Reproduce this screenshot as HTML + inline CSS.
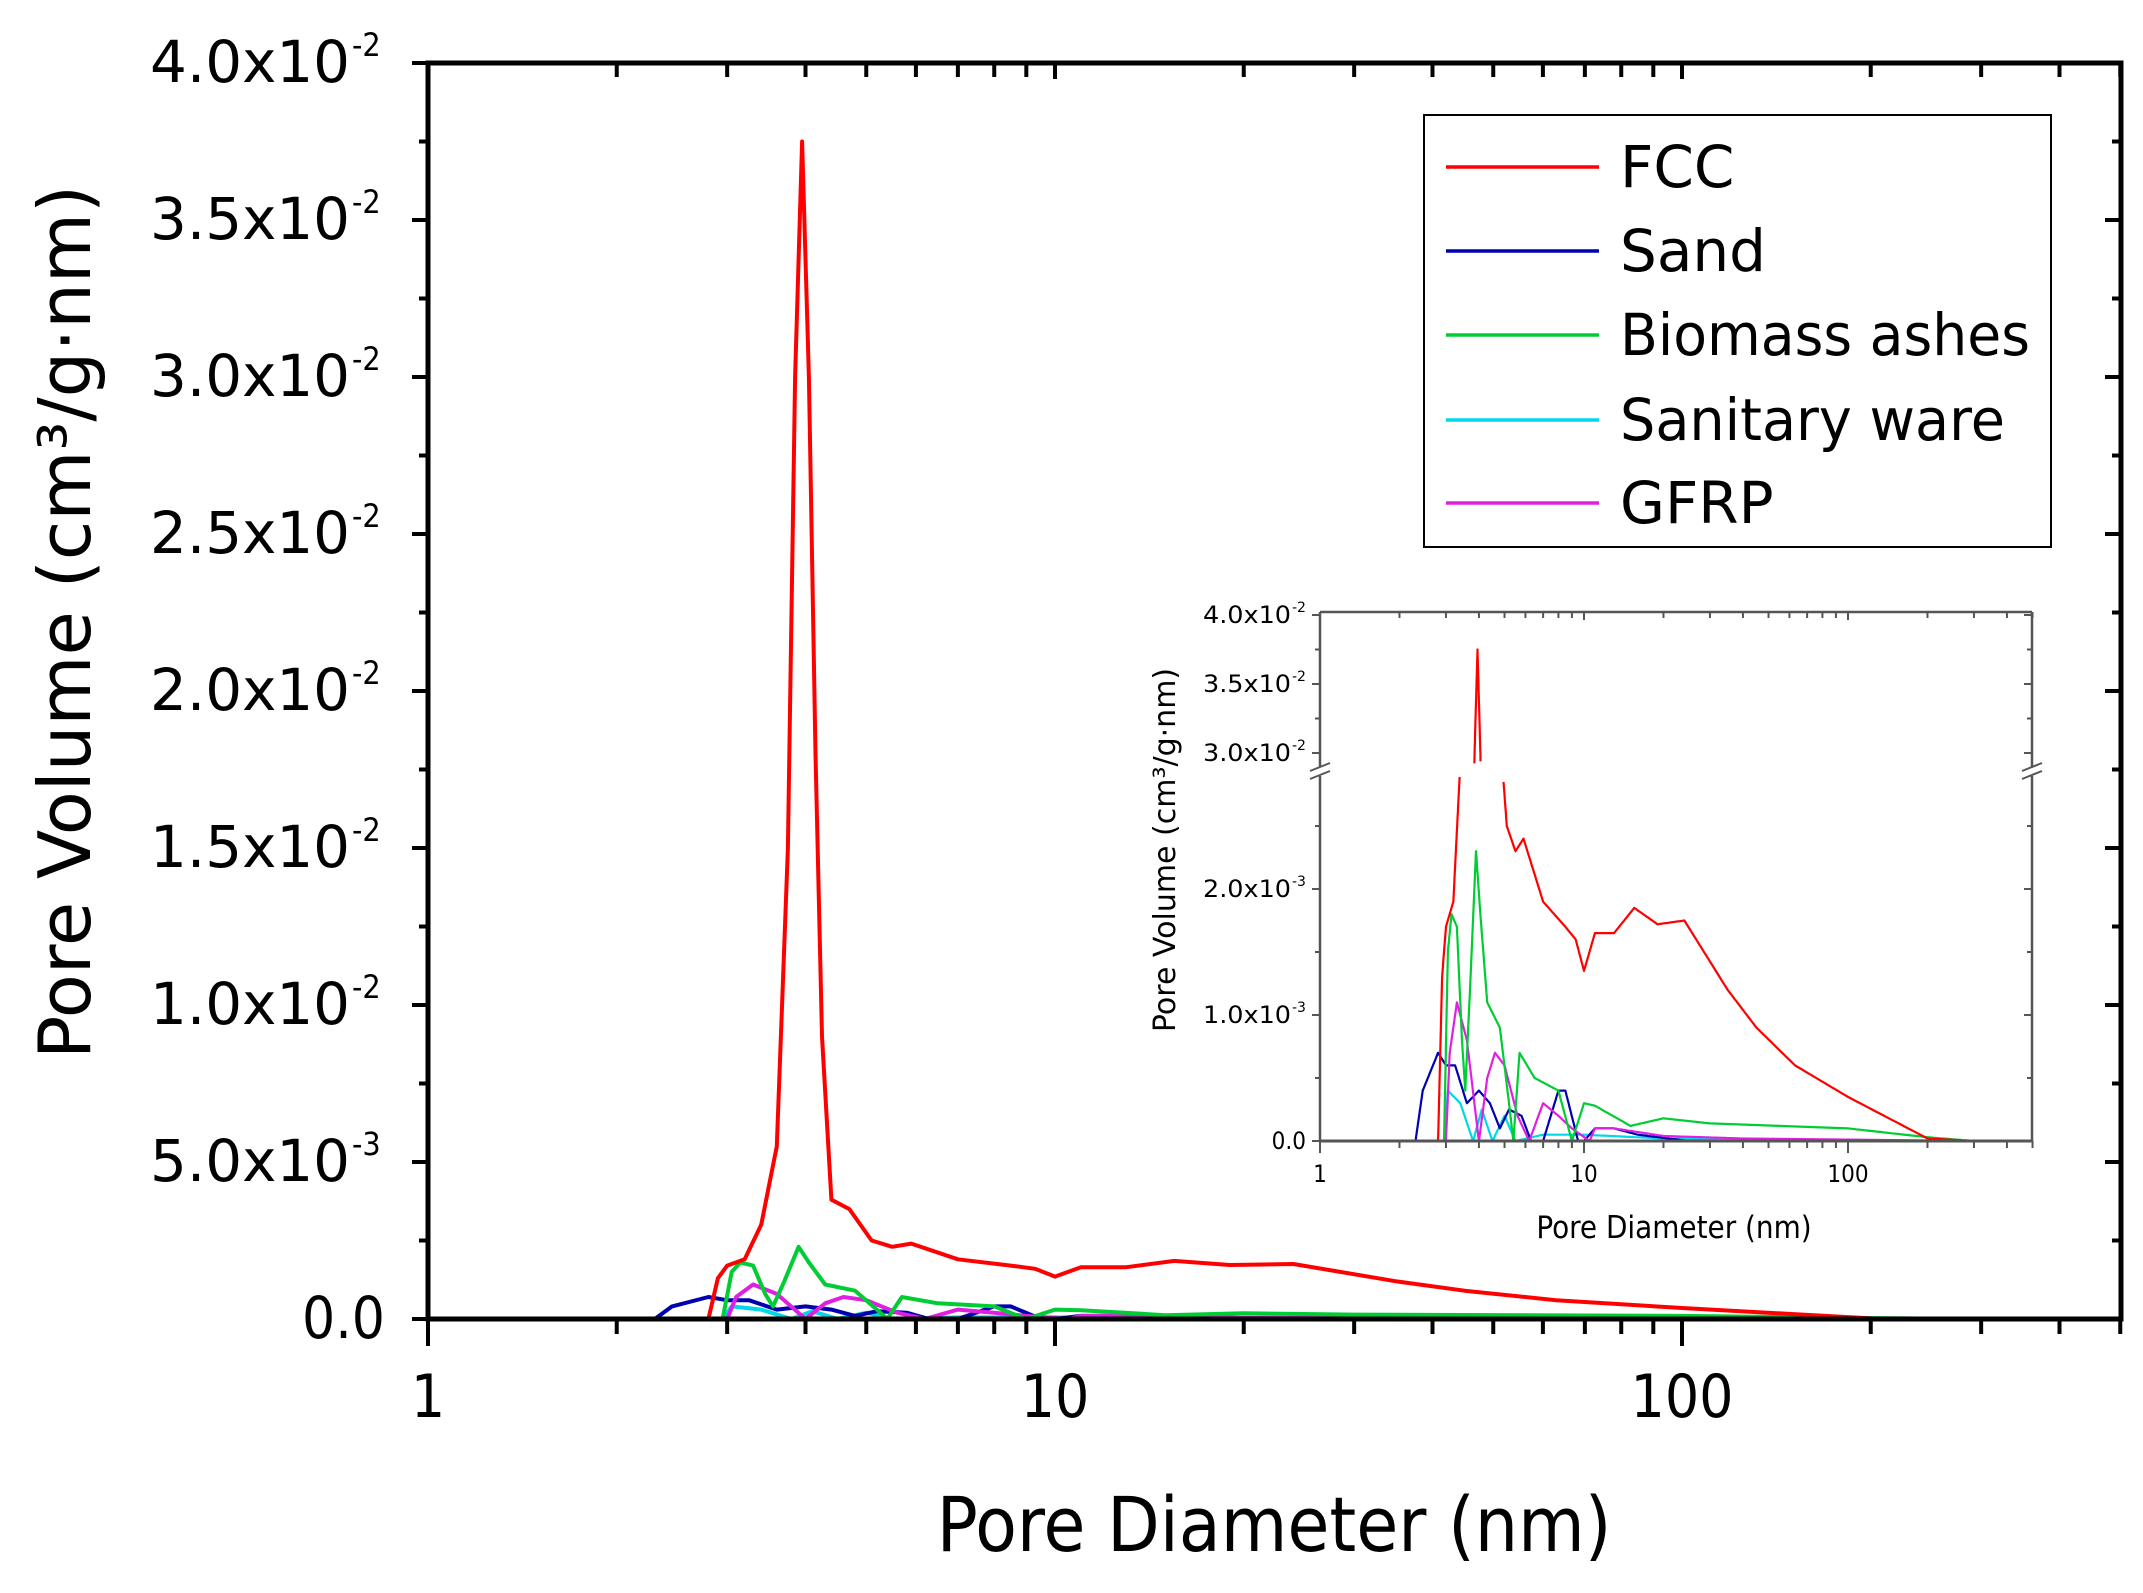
<!DOCTYPE html>
<html><head><meta charset="utf-8">
<style>
html,body{margin:0;padding:0;background:#fff;}
svg{display:block;}
text{font-family:"DejaVu Sans","Liberation Sans",sans-serif;fill:#000;}
</style></head>
<body>
<svg id="s" width="2143" height="1593" viewBox="0 0 2143 1593" xmlns="http://www.w3.org/2000/svg">
<rect width="2143" height="1593" fill="#fff"/>
<g id="g"></g>
<rect x="1424" y="115" width="627" height="432" fill="#fff" stroke="#000" stroke-width="2"/>
<g stroke-width="3.5">
<line x1="1446" y1="167" x2="1599" y2="167" stroke="#ff0000"/>
<line x1="1446" y1="251" x2="1599" y2="251" stroke="#0000b0"/>
<line x1="1446" y1="335" x2="1599" y2="335" stroke="#00cc33"/>
<line x1="1446" y1="420" x2="1599" y2="420" stroke="#00d8e8"/>
<line x1="1446" y1="503" x2="1599" y2="503" stroke="#e020e0"/>
</g>
<g font-size="58" style="font-family:'DejaVu Sans Condensed','DejaVu Sans',sans-serif">
<text x="1620" y="187">FCC</text>
<text x="1620" y="271">Sand</text>
<text x="1620" y="355" textLength="410" lengthAdjust="spacingAndGlyphs">Biomass ashes</text>
<text x="1620" y="440" textLength="385" lengthAdjust="spacingAndGlyphs">Sanitary ware</text>
<text x="1620" y="523">GFRP</text>
</g>
<text x="1274" y="1551" font-size="76" text-anchor="middle" style="font-family:'DejaVu Sans Condensed','DejaVu Sans',sans-serif">Pore Diameter (nm)</text>
<text transform="translate(90,622) rotate(-90)" font-size="72" text-anchor="middle">Pore Volume (cm³/g·nm)</text>
<text x="1674" y="1238" font-size="31" text-anchor="middle" style="font-family:'DejaVu Sans Condensed','DejaVu Sans',sans-serif">Pore Diameter (nm)</text>
<text transform="translate(1175,850) rotate(-90)" font-size="30" text-anchor="middle">Pore Volume (cm³/g·nm)</text>
</svg>
<script>
var NS="http://www.w3.org/2000/svg",G=document.getElementById("g");
function el(t,a,txt){var e=document.createElementNS(NS,t);for(var k in a)e.setAttribute(k,a[k]);if(txt!=null)e.textContent=txt;G.appendChild(e);return e;}
var D={
FCC:[[2.8,0],[2.9,0.0013],[3.0,0.0017],[3.2,0.0019],[3.4,0.003],[3.6,0.0055],[3.75,0.015],[3.85,0.03],[3.95,0.0375],[4.05,0.03],[4.15,0.018],[4.25,0.009],[4.4,0.0038],[4.7,0.0035],[5.1,0.0025],[5.5,0.0023],[5.9,0.0024],[7,0.0019],[8.5,0.0017],[9.3,0.0016],[10,0.00135],[11,0.00165],[13,0.00165],[15.5,0.00185],[19,0.00172],[24,0.00175],[35,0.0012],[45,0.0009],[63,0.0006],[100,0.00035],[200,0.00002],[300,0]],
BIO:[[2.95,0],[3.05,0.0015],[3.15,0.0018],[3.3,0.0017],[3.45,0.0008],[3.55,0.0004],[3.7,0.0012],[3.9,0.0023],[4.05,0.0018],[4.3,0.0011],[4.8,0.0009],[5.2,0.0003],[5.4,0],[5.7,0.0007],[6.5,0.0005],[8,0.0004],[9,0],[10,0.0003],[11,0.00028],[15,0.00012],[20,0.00018],[30,0.00014],[100,0.0001],[200,0.00003],[300,0]],
SAND:[[2.3,0],[2.45,0.0004],[2.8,0.0007],[3.0,0.0006],[3.25,0.0006],[3.6,0.0003],[4.0,0.0004],[4.4,0.0003],[4.8,0.0001],[5.2,0.00025],[5.8,0.0002],[6.3,0],[7,0],[8,0.0004],[8.5,0.0004],[9.5,0],[10,0],[11,0.0001],[13,0.0001],[16,0.00005],[25,0],[300,0]],
SAN:[[2.95,0],[3.05,0.0004],[3.4,0.0003],[3.8,0],[4.1,0.00025],[4.5,0],[5,0.0002],[5.5,0],[7,0.00005],[10,0.00005],[20,0.00002],[300,0]],
GF:[[3.0,0],[3.1,0.0007],[3.3,0.0011],[3.6,0.0008],[4.0,0],[4.3,0.0005],[4.6,0.0007],[5,0.0006],[5.6,0.0002],[6.2,0],[7,0.0003],[8,0.0002],[9,0.0001],[10.5,0],[11,0.0001],[13,0.0001],[20,0.00004],[40,0.00002],[300,0]]};
var C={FCC:"#ff0000",BIO:"#00cc33",SAND:"#0000b0",SAN:"#00d8e8",GF:"#e020e0"};
var order=["SAN","SAND","GF","BIO","FCC"];
var L=428,R=2121,T=63,B=1319,DEC=627;
function mx(d){return L+Math.log10(d)*DEC;}
function my(v){return B-v/0.04*(B-T);}
order.forEach(function(k){var p=D[k].map(function(q){return mx(q[0]).toFixed(1)+","+my(q[1]).toFixed(1)}).join(" ");
el("polyline",{points:p,fill:"none",stroke:C[k],"stroke-width":4,"stroke-linejoin":"round"});});
el("rect",{x:L,y:T,width:R-L,height:B-T,fill:"none",stroke:"#000","stroke-width":5});
for(var i=0;i<=16;i++){var v=i*0.0025,y=my(v),maj=i%2==0,len=maj?16:9;
el("line",{x1:L-len,y1:y,x2:L,y2:y,stroke:"#000","stroke-width":4});
el("line",{x1:R,y1:y,x2:R-len,y2:y,stroke:"#000","stroke-width":4});}
var yl=[["0.0",""],["5.0x10","-3"],["1.0x10","-2"],["1.5x10","-2"],["2.0x10","-2"],["2.5x10","-2"],["3.0x10","-2"],["3.5x10","-2"],["4.0x10","-2"]];
yl.forEach(function(l,i){var y=my(i*0.005)+19;
if(l[1]){el("text",{x:150,y:y,"font-size":58,textLength:200,lengthAdjust:"spacingAndGlyphs",style:"font-family:'DejaVu Sans Condensed','DejaVu Sans',sans-serif"},l[0]);
el("text",{x:352,y:y-26,"font-size":32,style:"font-family:'DejaVu Sans Condensed','DejaVu Sans',sans-serif"},l[1]);}
else el("text",{x:385,y:y,"font-size":58,"text-anchor":"end",style:"font-family:'DejaVu Sans Condensed','DejaVu Sans',sans-serif"},l[0]);});
for(var e=0;e<3;e++)for(var m=1;m<=9;m++){var d=m*Math.pow(10,e);if(d>500)break;var x=mx(d),maj=m==1,len=maj?27:15;
el("line",{x1:x,y1:B,x2:x,y2:B+len,stroke:"#000","stroke-width":4});
el("line",{x1:x,y1:T,x2:x,y2:T+(maj?16:14),stroke:"#000","stroke-width":4});}
[["1",1],["10",10],["100",100]].forEach(function(l){el("text",{x:mx(l[1]),y:1417,"font-size":60,"text-anchor":"middle",style:"font-family:'DejaVu Sans Condensed','DejaVu Sans',sans-serif"},l[0]);});
var iL=1320,iR=2032,iT=612,iB=1141,iD=264;
function ix(d){return iL+Math.log10(d)*iD;}
function iy(v){if(v<=0.0029)return iB-v/0.001*126; if(v>=0.029)return 753-(v-0.03)/0.005*69; return null;}
order.forEach(function(k){var pts=D[k],segs=[],cur=[];
for(var j=0;j<pts.length-1;j++){var a=pts[j],b=pts[j+1];for(var s=0;s<20;s++){var f=s/20;var d=Math.pow(10,Math.log10(a[0])+f*(Math.log10(b[0])-Math.log10(a[0])));var v=a[1]+f*(b[1]-a[1]);var y=iy(v);
if(y==null){if(cur.length>1)segs.push(cur);cur=[];}else cur.push(ix(d).toFixed(1)+","+y.toFixed(1));}}
var l=pts[pts.length-1];cur.push(ix(l[0]).toFixed(1)+","+iy(l[1]).toFixed(1));if(cur.length>1)segs.push(cur);
segs.forEach(function(sg){el("polyline",{points:sg.join(" "),fill:"none",stroke:C[k],"stroke-width":2.2,"stroke-linejoin":"round"});});});
var ax="#555";
el("line",{x1:iL,y1:iT,x2:iR,y2:iT,stroke:ax,"stroke-width":2.5});
el("line",{x1:iL,y1:iB,x2:iR,y2:iB,stroke:ax,"stroke-width":3});
el("line",{x1:iL,y1:iT,x2:iL,y2:767,stroke:ax,"stroke-width":2.5});
el("line",{x1:iL,y1:776,x2:iL,y2:iB,stroke:ax,"stroke-width":2.5});
el("line",{x1:iR,y1:iT,x2:iR,y2:767,stroke:ax,"stroke-width":2.5});
el("line",{x1:iR,y1:776,x2:iR,y2:iB,stroke:ax,"stroke-width":2.5});
[iL,iR].forEach(function(x){el("line",{x1:x-10,y1:771,x2:x+10,y2:763,stroke:ax,"stroke-width":2});el("line",{x1:x-10,y1:779,x2:x+10,y2:771,stroke:ax,"stroke-width":2});});
[0,0.0005,0.001,0.0015,0.002,0.0025,0.03,0.0325,0.035,0.0375,0.04].forEach(function(v){var y=iy(v),maj=[0,0.001,0.002,0.03,0.035,0.04].indexOf(v)>=0,len=maj?8:5;
el("line",{x1:iL-len,y1:y,x2:iL,y2:y,stroke:ax,"stroke-width":2});el("line",{x1:iR,y1:y,x2:iR-len,y2:y,stroke:ax,"stroke-width":2});});
[["0.0","",0],["1.0x10","-3",0.001],["2.0x10","-3",0.002],["3.0x10","-2",0.03],["3.5x10","-2",0.035],["4.0x10","-2",0.04]].forEach(function(l){var y=iy(l[2])+8;
if(l[1]){el("text",{x:1203,y:y,"font-size":24,textLength:88,lengthAdjust:"spacingAndGlyphs",style:"font-family:'DejaVu Sans Condensed','DejaVu Sans',sans-serif"},l[0]);
el("text",{x:1292,y:y-11,"font-size":14},l[1]);}
else el("text",{x:1306,y:y,"font-size":24,"text-anchor":"end",style:"font-family:'DejaVu Sans Condensed','DejaVu Sans',sans-serif"},l[0]);});
for(var e=0;e<3;e++)for(var m=1;m<=9;m++){var d=m*Math.pow(10,e);if(d>500)break;var x=ix(d),maj=m==1;
el("line",{x1:x,y1:iB,x2:x,y2:iB+(maj?12:7),stroke:ax,"stroke-width":2});
el("line",{x1:x,y1:iT,x2:x,y2:iT+(maj?8:6),stroke:ax,"stroke-width":2});}
[["1",1],["10",10],["100",100]].forEach(function(l){el("text",{x:ix(l[1]),y:1182,"font-size":24,"text-anchor":"middle",style:"font-family:'DejaVu Sans Condensed','DejaVu Sans',sans-serif"},l[0]);});
</script>
</body></html>
